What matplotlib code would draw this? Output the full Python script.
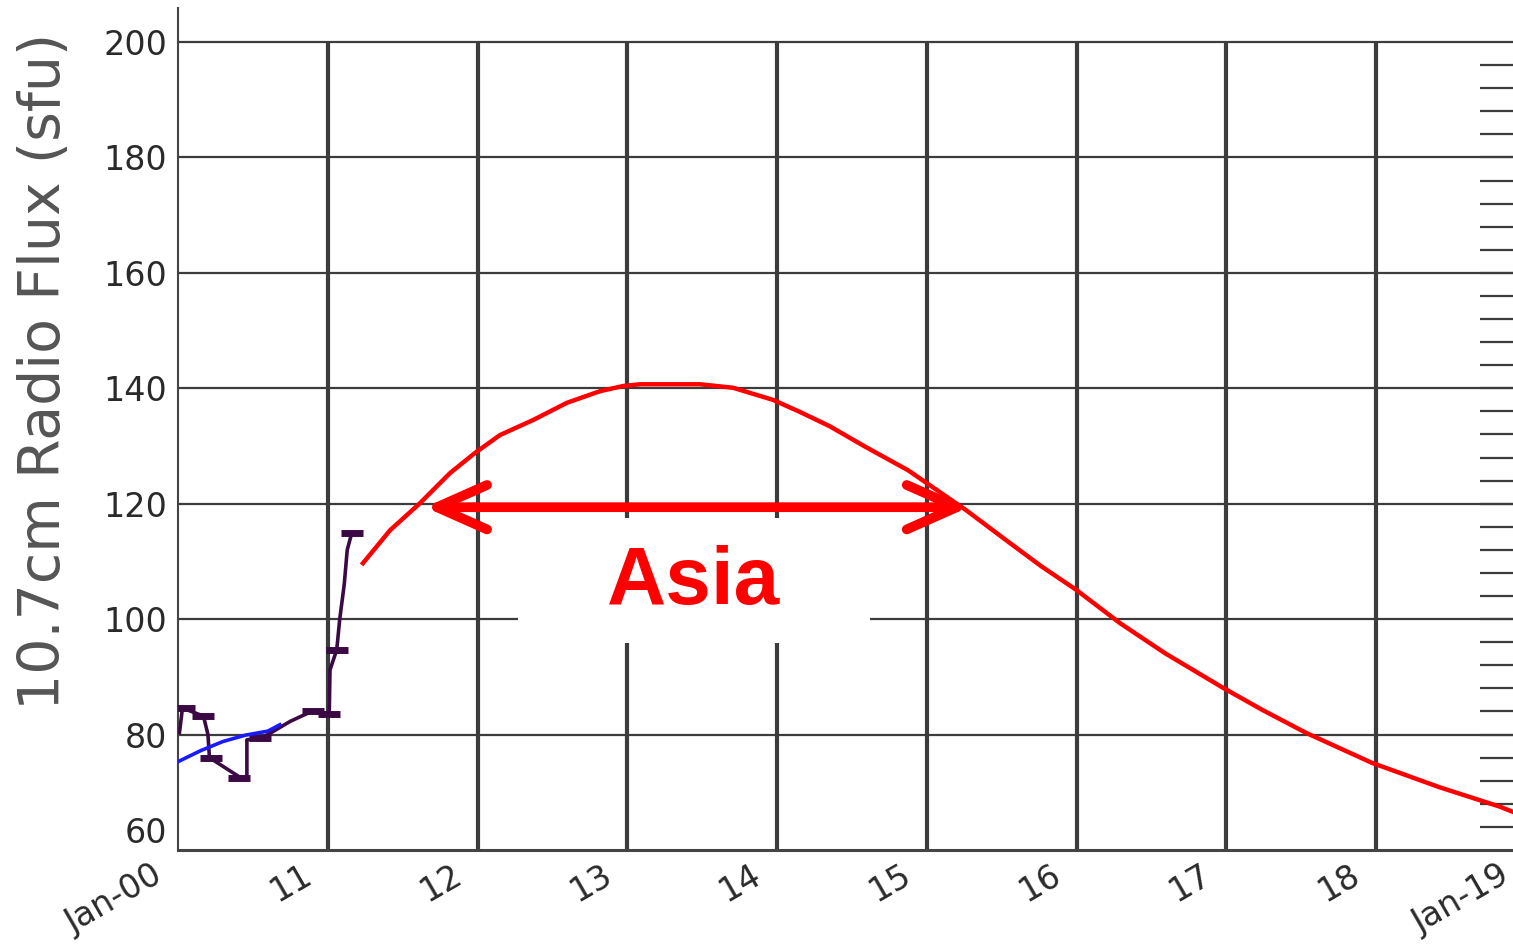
import numpy as np
import matplotlib
matplotlib.use('Agg')
import matplotlib.pyplot as plt
import matplotlib.transforms as mtransforms
from matplotlib.patches import Rectangle

# x axis: day of January, y axis: flux in sfu
day_ticks = [10, 11, 12, 13, 14, 15, 16, 17, 18, 19]
day_labels = ['Jan-00', '11', '12', '13', '14', '15', '16', '17', '18', 'Jan-19']
flux_ticks = [60, 80, 100, 120, 140, 160, 180, 200]
flux_minor = list(range(64, 200, 4))

# forecast curve (red)
forecast_days = [11.235, 11.416, 11.616, 11.816, 11.983, 12.150, 12.371, 12.598, 12.818,
                 12.972, 13.085, 13.486, 13.706, 13.973, 14.154, 14.354, 14.581, 14.875,
                 15.262, 15.529, 15.763, 15.997, 16.291, 16.591, 16.972, 17.239, 17.533,
                 17.973, 18.421, 18.828, 18.915]
forecast_flux = [109.7, 115.4, 120.1, 125.3, 128.8, 131.9, 134.5, 137.5, 139.5,
                 140.4, 140.7, 140.7, 140.1, 138.0, 135.9, 133.4, 130.0, 125.8,
                 118.9, 113.7, 109.2, 105.1, 99.3, 94.1, 88.2, 84.3, 80.3,
                 75.1, 70.9, 67.5, 66.6]

# smoothed trend (blue)
trend_days = [10.00, 10.15, 10.30, 10.45, 10.60, 10.68]
trend_flux = [75.3, 77.2, 78.8, 79.9, 80.6, 81.7]

# observed flux (purple) - path and observation bars
obs_path_days = [10.01, 10.03, 10.17, 10.20, 10.21, 10.30, 10.42, 10.46, 10.46, 10.55,
                 10.60, 10.75, 10.90, 11.01, 11.015, 11.06, 11.08, 11.11, 11.13, 11.16]
obs_path_flux = [80.4, 84.6, 83.2, 80.0, 76.0, 74.5, 72.5, 72.8, 79.1, 79.4,
                 80.0, 82.3, 84.1, 83.6, 91.2, 94.7, 100.0, 106.0, 112.0, 114.9]
obs_days = [10.04, 10.17, 10.22, 10.41, 10.55, 10.90, 11.01, 11.06, 11.16]
obs_flux = [84.6, 83.2, 75.9, 72.5, 79.4, 84.1, 83.6, 94.7, 114.9]

# Asia window
asia_start, asia_end, asia_level = 11.65, 15.28, 119.4

W, H = 1513, 947
px_day = 149.75
px_sfu = 5.771
fig = plt.figure(figsize=(W / 100, H / 100), dpi=100)
ax = fig.add_axes([178 / W, 1 - 850 / H, 9 * px_day / W, 842 / H])
ax.set_xlim(10, 19)
ax.set_ylim(60, 60 + 842 / px_sfu)

grid_col = '#3c3c3c'
ax.hlines(flux_ticks[1:], 10, 19, color=grid_col, lw=1.6, zorder=1)
ax.vlines(day_ticks[1:-1], 60, 200, color=grid_col, lw=3.0, zorder=1)
ax.hlines(flux_minor, 18.694, 19, color=grid_col, lw=1.6, zorder=1)

for s in ['top', 'right']:
    ax.spines[s].set_visible(False)
ax.spines['left'].set_linewidth(1.5)
ax.spines['left'].set_color('#444444')
ax.spines['bottom'].set_linewidth(2.2)
ax.spines['bottom'].set_color('#444444')

ax.set_yticks(flux_ticks)
ax.set_yticklabels([str(v) for v in flux_ticks])
ax.tick_params(axis='y', length=0, pad=8, labelsize=24, labelcolor='#2a2a2a')
ax.get_yticklabels()[0].set_va('bottom')

ax.set_xticks(day_ticks)
ax.set_xticklabels(day_labels)
ax.tick_params(axis='x', length=0, pad=6, labelsize=24, labelcolor='#2a2a2a')
shift = mtransforms.ScaledTranslation(-10 / 100, 0, fig.dpi_scale_trans)
for lab in ax.get_xticklabels():
    lab.set_rotation(30)
    lab.set_ha('right')
    lab.set_va('top')
    lab.set_transform(lab.get_transform() + shift)

ax.set_ylabel('10.7cm Radio Flux (sfu)', fontsize=41, color='#555555', va='center')
ax.yaxis.set_label_coords(-0.099, 0.568)

# curves
ax.plot(forecast_days, forecast_flux, color='#ff0000', lw=3.2, zorder=4)
ax.plot(obs_path_days, obs_path_flux, color='#3b0a45', lw=2.6, zorder=4)
ax.plot(obs_days, obs_flux, ls='none', marker='_', ms=16, mew=5, color='#3b0a45', zorder=4)
ax.plot(trend_days, trend_flux, color='#1a1aff', lw=2.6, zorder=5)

# annotation
ax.add_patch(Rectangle((12.27, 95.9), 2.35, 21.6, facecolor='white', edgecolor='none', zorder=2))
ax.annotate('', xy=(asia_start, asia_level), xytext=(asia_end, asia_level),
            arrowprops=dict(arrowstyle='<->,head_length=3.6,head_width=1.6', color='#ff0000',
                            lw=7, shrinkA=0, shrinkB=0, capstyle='round', joinstyle='round',
                            mutation_scale=10), zorder=6)
ax.text(13.44, 106.3, 'Asia', color='#ff0000', fontsize=59, fontweight='bold',
        family='Liberation Sans', ha='center', va='center', zorder=6)

fig.savefig('out.png', dpi=100)
